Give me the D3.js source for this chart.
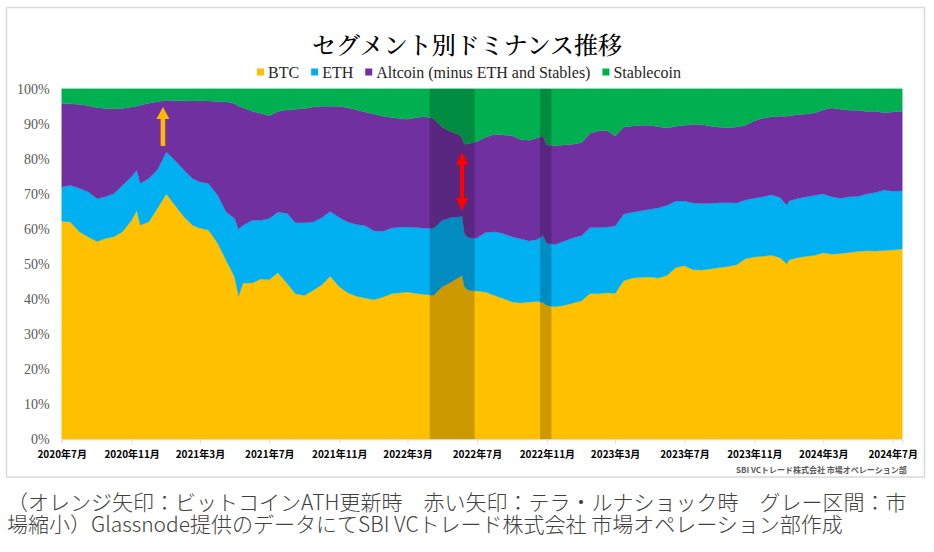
<!DOCTYPE html>
<html><head><meta charset="utf-8">
<script src="https://cdn.jsdelivr.net/npm/d3@7/dist/d3.min.js"></script>
<style>html,body{margin:0;padding:0;background:#fff;}svg{display:block}</style>
</head><body>
<svg id="c" width="934" height="552"></svg>
<script>
const dates = [
"2020-07-01","2020-07-16","2020-08-01","2020-08-16","2020-09-01","2020-09-16","2020-10-01","2020-10-16","2020-11-01","2020-11-10","2020-11-16","2020-12-01","2020-12-16",
"2021-01-01","2021-01-16","2021-02-01","2021-02-16","2021-03-01","2021-03-16","2021-04-01","2021-04-16","2021-05-01","2021-05-08","2021-05-16","2021-06-01","2021-06-16",
"2021-07-01","2021-07-16","2021-08-01","2021-08-16","2021-09-01","2021-09-16","2021-10-01","2021-10-16","2021-11-01","2021-11-16","2021-12-01","2021-12-16",
"2022-01-01","2022-01-16","2022-02-01","2022-02-16","2022-03-01","2022-03-16","2022-04-01","2022-04-16","2022-05-01","2022-05-16","2022-06-01","2022-06-05","2022-06-09","2022-06-16",
"2022-07-01","2022-07-16","2022-08-01","2022-08-16","2022-09-01","2022-09-16","2022-10-01","2022-10-16","2022-10-25","2022-11-01","2022-11-16","2022-12-01","2022-12-16",
"2023-01-01","2023-01-16","2023-02-01","2023-02-16","2023-03-01","2023-03-16","2023-04-01","2023-04-16","2023-05-01","2023-05-16","2023-06-01","2023-06-16",
"2023-07-01","2023-07-16","2023-08-01","2023-08-16","2023-09-01","2023-09-16","2023-10-01","2023-10-16","2023-11-01","2023-11-16","2023-12-01","2023-12-16","2023-12-28",
"2024-01-01","2024-01-16","2024-02-01","2024-02-16","2024-03-01","2024-03-16","2024-04-01","2024-04-16","2024-05-01","2024-05-16","2024-06-01","2024-06-16","2024-07-01","2024-07-18"
];
const btc = [
62.2,62.0,59.2,57.8,56.4,57.3,57.8,59.2,62.5,65.3,61.1,62.0,65.8,
70.0,66.8,63.5,61.1,60.2,59.7,56.0,51.1,46.3,40.8,44.6,44.6,45.7,
45.5,47.5,44.5,41.5,41.0,42.5,44.0,46.5,43.5,41.8,40.8,40.3,
39.8,40.5,41.5,41.8,42.0,41.6,41.3,41.1,43.5,44.8,46.4,46.8,43.5,42.5,
42.3,42.0,41.0,40.2,39.2,38.9,39.2,39.3,39.0,38.2,37.8,38.2,38.8,
39.5,41.6,41.5,41.8,41.6,45.2,46.0,46.2,46.3,46.0,46.8,49.0,
49.5,48.4,48.3,48.6,49.0,49.3,49.8,51.5,52.0,52.2,52.5,51.8,50.0,
51.2,51.8,52.2,52.5,53.2,52.8,53.0,53.3,53.6,53.8,53.7,53.9,54.0,54.3
];
const eth = [
9.8,10.5,12.4,12.8,12.3,11.9,12.3,13.3,12.5,11.5,11.9,12.4,11.0,
12.0,12.8,13.3,13.3,13.2,13.3,13.7,13.8,16.7,19.2,16.5,17.9,16.8,
17.5,17.3,20.0,20.3,20.8,19.5,19.2,18.5,19.8,20.2,20.5,20.7,
19.7,18.8,18.8,18.7,18.6,18.8,18.9,19.1,19.0,18.5,17.1,17.0,15.2,15.0,
15.1,17.0,18.2,18.5,18.6,18.3,17.4,17.7,19.2,17.7,17.8,18.3,18.6,
18.6,18.8,18.9,18.8,19.2,19.0,18.8,19.0,19.3,20.0,20.0,19.0,
18.5,19.0,19.0,18.7,18.5,18.2,17.6,16.8,16.8,17.0,17.3,17.2,16.8,
16.8,16.9,17.0,17.1,16.8,16.4,15.8,15.9,15.7,16.2,16.7,17.2,16.8,16.6
];
const altcoin = [
23.8,23.2,23.9,24.6,25.9,25.2,24.2,21.9,19.8,18.2,22.3,21.5,19.5,
14.7,17.0,19.8,22.1,23.2,23.5,26.7,31.4,32.8,35.0,33.5,31.1,30.5,
29.3,28.7,29.5,32.4,32.6,32.8,31.8,30.0,31.7,32.6,32.7,32.4,
33.3,32.9,31.5,31.0,30.7,31.4,31.8,31.3,26.5,24.5,23.3,22.2,25.5,26.8,
27.6,27.2,27.8,28.1,28.8,28.3,28.7,29.0,28.4,28.1,28.2,27.5,26.8,
26.5,26.9,27.6,27.4,25.7,24.8,24.6,24.4,24.0,23.2,22.0,21.3,
21.6,22.4,22.5,22.0,21.5,21.4,21.7,21.3,22.1,22.4,22.2,23.2,25.4,
24.3,23.9,23.6,23.6,24.0,25.3,25.4,24.7,24.6,23.5,23.2,22.1,22.6,22.7
];
const stablecoin = [
4.2,4.3,4.5,4.8,5.4,5.6,5.7,5.6,5.2,5.0,4.7,4.1,3.7,
3.3,3.4,3.4,3.5,3.4,3.5,3.6,3.7,4.2,5.0,5.4,6.4,7.0,
7.7,6.5,6.0,5.8,5.6,5.2,5.0,5.0,5.0,5.4,6.0,6.6,
7.2,7.8,8.2,8.5,8.7,8.2,8.0,8.5,11.0,12.2,13.2,14.0,15.8,15.7,
15.0,13.8,13.0,13.2,13.4,14.5,14.7,14.0,13.4,16.0,16.2,16.0,15.8,
15.4,12.7,12.0,12.0,13.5,11.0,10.6,10.4,10.4,10.8,11.2,10.7,
10.4,10.2,10.2,10.7,11.0,11.1,10.9,10.4,9.1,8.4,8.0,7.8,7.8,
7.7,7.4,7.2,6.8,6.0,5.5,5.8,6.1,6.1,6.5,6.4,6.8,6.6,6.4
];
const seriesNames = ["BTC","ETH","Altcoin (minus ETH and Stables)","Stablecoin"];
const seriesColors = ["#FFC000","#00B0F0","#7030A0","#00B050"];
const yTicks = [0,10,20,30,40,50,60,70,80,90,100];
const xTickDates = ["2020-07-01","2020-11-01","2021-03-01","2021-07-01","2021-11-01","2022-03-01","2022-07-01","2022-11-01","2023-03-01","2023-07-01","2023-11-01","2024-03-01","2024-07-01"];
const xTickLabels = ["2020年7月","2020年11月","2021年3月","2021年7月","2021年11月","2022年3月","2022年7月","2022年11月","2023年3月","2023年7月","2023年11月","2024年3月","2024年7月"];
const xDomain = ["2020-07-01","2024-07-18"];
const grayBands = [["2022-04-09","2022-06-27"],["2022-10-20","2022-11-09"]];
const athArrow = {date:"2020-12-26", from:83.7, to:94.8};
const lunaArrow = {date:"2022-06-05", from:65.2, to:82.0};
const titleText = "セグメント別ドミナンス推移";
const creditText = "SBI VCトレード株式会社 市場オペレーション部";
const footnoteLines = ["（オレンジ矢印：ビットコインATH更新時　赤い矢印：テラ・ルナショック時　グレー区間：市","場縮小）Glassnode提供のデータにてSBI VCトレード株式会社 市場オペレーション部作成"];

const parse = d3.utcParse("%Y-%m-%d");
const svg = d3.select("#c");
const L = 61.7, R = 902.3, T = 88.8, B = 439.3;
const JP = "'Noto Sans CJK JP','Noto Sans',sans-serif";
const SERIF = "'Liberation Serif','DejaVu Serif',serif";

// outer frame
svg.append("rect").attr("x",6.5).attr("y",7.5).attr("width",918).attr("height",469.5)
  .attr("fill","#fff").attr("stroke","#D9D9D9").attr("stroke-width",1.5);

const x = d3.scaleUtc().domain(xDomain.map(parse)).range([L,R]);
const y = d3.scaleLinear().domain([0,100]).range([B,T]);

const rows = dates.map((d,i)=>({date:parse(d), s0:btc[i], s1:eth[i], s2:altcoin[i], s3:stablecoin[i]}));
const keys = ["s0","s1","s2","s3"];
const stack = d3.stack().keys(keys).offset(d3.stackOffsetExpand)(rows);
const area = d3.area().x(d=>x(d.data.date)).y0(d=>y(d[0]*100)).y1(d=>y(d[1]*100));
svg.append("g").selectAll("path").data(stack).join("path")
  .attr("d",area).attr("fill",(d,i)=>seriesColors[i]).attr("stroke",(d,i)=>seriesColors[i]).attr("stroke-width",0.3);

// gray bands
svg.append("g").selectAll("rect").data(grayBands).join("rect")
  .attr("x",d=>x(parse(d[0]))).attr("width",d=>x(parse(d[1]))-x(parse(d[0])))
  .attr("y",T).attr("height",B-T).attr("fill","#000").attr("fill-opacity",0.2);

// x axis
const xa = svg.append("g").attr("transform",`translate(0,${B})`)
  .call(d3.axisBottom(x).tickValues(xTickDates.map(parse)).tickFormat((d,i)=>xTickLabels[i]).tickSize(4).tickPadding(8));
xa.select(".domain").attr("stroke","#D9D9D9").attr("stroke-width",1);
xa.selectAll(".tick line").attr("stroke","#D9D9D9");
xa.selectAll(".tick text").attr("font-family",JP).attr("font-weight",700).attr("font-size",10).attr("fill","#000");

// y axis
const ya = svg.append("g").attr("transform",`translate(${L},0)`)
  .call(d3.axisLeft(y).tickValues(yTicks).tickFormat(d=>d+"%").tickSize(0).tickPadding(12));
ya.select(".domain").remove();
ya.selectAll(".tick text").attr("font-family",SERIF).attr("font-size",14).attr("fill","#595959");

// arrows
function upArrow(a,color){
  const ax = x(parse(a.date)), yb = y(a.from), yt = y(a.to), hh = 12, hw = 6.5, sw = 2.3;
  const p = `M${ax-sw},${yb}L${ax-sw},${yt+hh}L${ax-hw},${yt+hh}L${ax},${yt}L${ax+hw},${yt+hh}L${ax+sw},${yt+hh}L${ax+sw},${yb}Z`;
  svg.append("path").attr("d",p).attr("fill",color);
}
function dblArrow(a,color){
  const ax = x(parse(a.date)), yb = y(a.from), yt = y(a.to), hh = 13, hw = 6.2, sw = 2;
  const p = `M${ax},${yt}L${ax+hw},${yt+hh}L${ax+sw},${yt+hh}L${ax+sw},${yb-hh}L${ax+hw},${yb-hh}L${ax},${yb}L${ax-hw},${yb-hh}L${ax-sw},${yb-hh}L${ax-sw},${yt+hh}L${ax-hw},${yt+hh}Z`;
  svg.append("path").attr("d",p).attr("fill",color);
}
upArrow(athArrow,"#FFB800");
dblArrow(lunaArrow,"#FF0000");

// title
svg.append("text").attr("x",467).attr("y",43).attr("text-anchor","middle").attr("dominant-baseline","central")
  .attr("font-family","'Noto Serif CJK JP',"+JP).attr("font-weight",500).attr("font-size",24).attr("fill","#000").text(titleText);

// legend
const lg = svg.append("g");
const items = [];
seriesNames.forEach((n,i)=>{
  const g = lg.append("g");
  g.append("rect").attr("x",0).attr("y",-3.5).attr("width",7).attr("height",7).attr("fill",seriesColors[i]);
  const t = g.append("text").attr("x",11).attr("y",0).attr("dominant-baseline","central")
    .attr("font-family",SERIF).attr("font-size",16).attr("fill","#262626").text(n);
  const w = 11 + t.node().getComputedTextLength();
  items.push({g,w});
});
const gap = 12;
const total = d3.sum(items,d=>d.w) + gap*(items.length-1);
let px = 469 - total/2;
items.forEach(it=>{ it.g.attr("transform",`translate(${px},72)`); px += it.w + gap; });

// credit
svg.append("text").attr("x",906.7).attr("y",469).attr("text-anchor","end").attr("dominant-baseline","central")
  .attr("font-family",JP).attr("font-weight",700).attr("font-size",8).attr("fill","#595959").text(creditText);

// footnote (one text block, two lines)
const fn = svg.append("text").attr("font-family",JP).attr("font-weight",300).attr("font-size",21)
  .attr("fill","#404040");
footnoteLines.forEach((t,i)=>{
  fn.append("tspan").attr("x",7).attr("y",510+i*22).text(t);
});
</script>
</body></html>
